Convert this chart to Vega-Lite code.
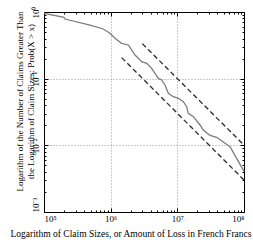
{
  "$schema": "https://vega.github.io/schema/vega-lite/v6.json",
  "width": 200,
  "height": 200,
  "autosize": {"type": "none"},
  "padding": {"left": 44, "top": 12, "right": 9, "bottom": 28},
  "config": {
    "view": {"stroke": "black", "strokeWidth": 1},
    "font": "Liberation Serif",
    "axis": {
      "domain": false,
      "tickColor": "black",
      "labelFont": "Liberation Serif",
      "labelFontSize": 9,
      "labelColor": "black",
      "gridColor": "#9a9a9a",
      "gridDash": [1, 2],
      "gridWidth": 1,
      "titleFont": "Liberation Serif",
      "titleFontSize": 9,
      "titleFontWeight": "normal",
      "titleColor": "black"
    }
  },
  "datasets": {
    "claims": [
      {"x": 100000, "y": 0.956},
      {"x": 199500, "y": 0.833},
      {"x": 206500, "y": 0.785},
      {"x": 490000, "y": 0.638},
      {"x": 776000, "y": 0.556},
      {"x": 977000, "y": 0.479},
      {"x": 1160000, "y": 0.403},
      {"x": 1460000, "y": 0.339},
      {"x": 1840000, "y": 0.32},
      {"x": 2070000, "y": 0.269},
      {"x": 2320000, "y": 0.226},
      {"x": 2920000, "y": 0.18},
      {"x": 3470000, "y": 0.17},
      {"x": 4120000, "y": 0.143},
      {"x": 4620000, "y": 0.12},
      {"x": 5190000, "y": 0.101},
      {"x": 5820000, "y": 0.0955},
      {"x": 6530000, "y": 0.0804},
      {"x": 7330000, "y": 0.0603},
      {"x": 8710000, "y": 0.0537},
      {"x": 10350000, "y": 0.0507},
      {"x": 12300000, "y": 0.0452},
      {"x": 13800000, "y": 0.038},
      {"x": 14600000, "y": 0.0302},
      {"x": 17400000, "y": 0.0269},
      {"x": 21900000, "y": 0.0202},
      {"x": 24500000, "y": 0.017},
      {"x": 30900000, "y": 0.0141},
      {"x": 38900000, "y": 0.0132},
      {"x": 61700000, "y": 0.00955},
      {"x": 77600000, "y": 0.00638},
      {"x": 100000000, "y": 0.00407}
    ],
    "fits": [
      {"line": "upper", "x": 2985000, "y": 0.335},
      {"line": "upper", "x": 100000000, "y": 0.0101},
      {"line": "lower", "x": 1462000, "y": 0.207},
      {"line": "lower", "x": 100000000, "y": 0.00302}
    ]
  },
  "layer": [
    {
      "data": {"name": "claims"},
      "mark": {"type": "line", "color": "#7c7c7c", "strokeWidth": 1.3},
      "encoding": {
        "x": {
          "field": "x", "type": "quantitative",
          "scale": {"type": "log", "domain": [100000, 100000000], "nice": false},
          "axis": {
            "orient": "bottom",
            "values": [100000, 1000000, 10000000, 100000000],
            "labelExpr": "datum.value == 100000 ? '10⁵' : datum.value == 1000000 ? '10⁶' : datum.value == 10000000 ? '10⁷' : '10⁸'",
            "ticks": false,
            "tickSize": 0,
            "grid": true,
            "gridOpacity": {"condition": {"test": "datum.value == 100000 || datum.value == 100000000", "value": 0}, "value": 1},
            "labelFlush": true,
            "labelPadding": 2,
            "labelBaseline": "top",
            "title": "Logarithm of Claim Sizes, or Amount of Loss in French Francs",
            "titleFontSize": 9.5,
            "titleX": 86.5,
            "titleY": 24,
            "titleBaseline": "alphabetic",
            "titleAlign": "center"
          }
        },
        "y": {
          "field": "y", "type": "quantitative",
          "scale": {"type": "log", "domain": [0.001, 1], "nice": false},
          "axis": {
            "orient": "left",
            "values": [0.001, 0.01, 0.1, 1],
            "labelExpr": "datum.value == 1 ? '10⁰' : datum.value == 0.1 ? '10⁻¹' : datum.value == 0.01 ? '10⁻²' : '10⁻³'",
            "ticks": false,
            "tickSize": 0,
            "grid": true,
            "gridOpacity": {"condition": {"test": "datum.value == 1 || datum.value == 0.001", "value": 0}, "value": 1},
            "labelAngle": -90,
            "labelAlign": {"condition": {"test": "datum.value == 0.001", "value": "left"}, "value": "center"},
            "labelBaseline": "bottom",
            "labelPadding": 3.5,
            "title": ["Logarithm of the Number of Claims Greater Than", "the Logarithm of Claim Sizes: Prob(X > x)"],
            "titleAngle": -90,
            "titleX": -24.5,
            "titleY": 89,
            "titleAlign": "center",
            "titleBaseline": "middle",
            "titleLineHeight": 10.5
          }
        }
      }
    },
    {
      "data": {"name": "fits"},
      "mark": {"type": "line", "color": "#2a2a2a", "strokeWidth": 1.3, "strokeDash": [5, 3]},
      "encoding": {
        "x": {"field": "x", "type": "quantitative", "scale": {"type": "log", "domain": [100000, 100000000], "nice": false}, "axis": null},
        "y": {"field": "y", "type": "quantitative", "scale": {"type": "log", "domain": [0.001, 1], "nice": false}, "axis": null},
        "detail": {"field": "line", "type": "nominal"}
      }
    },
    {
      "data": {"name": "claims"},
      "mark": {"type": "line", "strokeOpacity": 0},
      "encoding": {
        "x": {
          "field": "x", "type": "quantitative",
          "scale": {"type": "log", "domain": [100000, 100000000], "nice": false},
          "axis": {
            "orient": "top",
            "values": [100000, 200000, 300000, 400000, 500000, 600000, 700000, 800000, 900000, 1000000, 2000000, 3000000, 4000000, 5000000, 6000000, 7000000, 8000000, 9000000, 10000000, 20000000, 30000000, 40000000, 50000000, 60000000, 70000000, 80000000, 90000000, 100000000],
            "labels": false,
            "grid": false,
            "title": null,
            "tickSize": {"condition": {"test": "indexof([100000, 1000000, 10000000, 100000000], datum.value) >= 0", "value": -4}, "value": -2}
          }
        },
        "y": {
          "field": "y", "type": "quantitative",
          "scale": {"type": "log", "domain": [0.001, 1], "nice": false},
          "axis": {
            "orient": "right",
            "values": [0.001, 0.002, 0.003, 0.004, 0.005, 0.006, 0.007, 0.008, 0.009, 0.01, 0.02, 0.03, 0.04, 0.05, 0.06, 0.07, 0.08, 0.09, 0.1, 0.2, 0.3, 0.4, 0.5, 0.6, 0.7, 0.8, 0.9, 1],
            "labels": false,
            "grid": false,
            "title": null,
            "tickSize": {"condition": {"test": "indexof([0.001, 0.01, 0.1, 1], datum.value) >= 0", "value": -4}, "value": -2}
          }
        }
      }
    },
    {
      "data": {"name": "claims"},
      "mark": {"type": "line", "strokeOpacity": 0},
      "encoding": {
        "x": {
          "field": "x", "type": "quantitative",
          "scale": {"type": "log", "domain": [100000, 100000000], "nice": false},
          "axis": {
            "orient": "bottom",
            "values": [100000, 200000, 300000, 400000, 500000, 600000, 700000, 800000, 900000, 1000000, 2000000, 3000000, 4000000, 5000000, 6000000, 7000000, 8000000, 9000000, 10000000, 20000000, 30000000, 40000000, 50000000, 60000000, 70000000, 80000000, 90000000, 100000000],
            "labels": false,
            "grid": false,
            "title": null,
            "tickSize": {"condition": {"test": "indexof([100000, 1000000, 10000000, 100000000], datum.value) >= 0", "value": -4}, "value": -2}
          }
        },
        "y": {
          "field": "y", "type": "quantitative",
          "scale": {"type": "log", "domain": [0.001, 1], "nice": false},
          "axis": {
            "orient": "left",
            "values": [0.001, 0.002, 0.003, 0.004, 0.005, 0.006, 0.007, 0.008, 0.009, 0.01, 0.02, 0.03, 0.04, 0.05, 0.06, 0.07, 0.08, 0.09, 0.1, 0.2, 0.3, 0.4, 0.5, 0.6, 0.7, 0.8, 0.9, 1],
            "labels": false,
            "grid": false,
            "title": null,
            "tickSize": {"condition": {"test": "indexof([0.001, 0.01, 0.1, 1], datum.value) >= 0", "value": -4}, "value": -2}
          }
        }
      }
    }
  ],
  "resolve": {"axis": {"x": "independent", "y": "independent"}}
}
